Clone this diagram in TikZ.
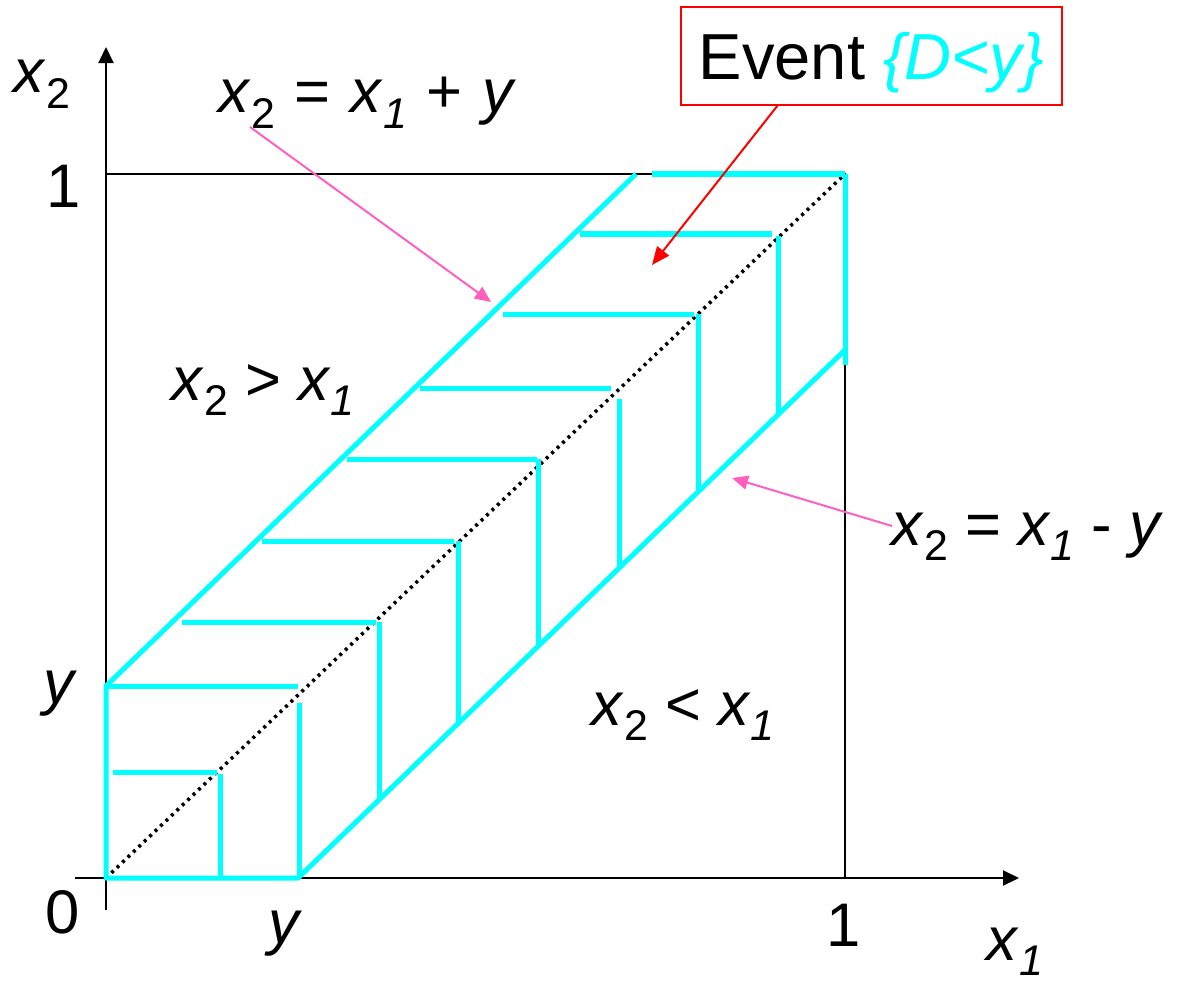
\documentclass[tikz,border=0pt]{standalone}
\usepackage{fontspec}
\setmainfont{Liberation Sans}
\usetikzlibrary{arrows.meta}
\definecolor{cy}{RGB}{0,255,255}
\definecolor{pk}{RGB}{255,95,190}
\definecolor{rd}{RGB}{255,0,0}
\newcommand\mysubsc[1]{\raisebox{-0.25em}{\fontsize{12.2}{13}\selectfont #1}}
\newcommand\myxone{\textit{x}\mysubsc{\textit{1}}}
\newcommand\myxtwo{\textit{x}\mysubsc{2}}
\newcommand\mygap{\hspace{0.32em}}
\begin{document}
\begin{tikzpicture}[x=0.01cm,y=-0.01cm,
  lbl/.style={anchor=base west, inner sep=0pt, font=\fontsize{17.5}{20}\selectfont},
  axisline/.style={line width=0.02cm, black},
  axisarrow/.style={axisline, -{Triangle[length=0.16cm,width=0.15cm]}},
  band/.style={line width=0.05cm, cy, line join=round},
  dotline/.style={line width=0.035cm, black, dash pattern=on 0.03cm off 0.045cm},
  ptr/.style={line width=0.02cm, pk, -{Triangle[length=0.16cm,width=0.14cm]}},
  redptr/.style={line width=0.02cm, rd, -{Triangle[length=0.18cm,width=0.15cm]}},
  eventbox/.style={draw=rd, line width=0.025cm, fill=white, minimum width=3.81cm, minimum height=0.98cm,
    inner sep=0pt, text height=13.2pt, text depth=0pt, font=\fontsize{18.5}{22}\selectfont}
]
\useasboundingbox (0,0) rectangle (1179,982);

% axes and unit square
\draw[axisarrow] (75,878) -- (1019,878);
\draw[axisarrow] (106,910) -- (106,47);
\draw[axisline] (106,174) -- (845,174) -- (845,878);

% diagonal x2 = x1
\draw[dotline] (106,878) -- (845,174);

% band outline
\draw[band] (636,174) -- (106,686) -- (106,878) -- (298,878) -- (845,350);

% horizontal hatches
\foreach \yy/\aa/\bb in {772/113/217, 686/106/298, 622/182/376, 541/262/454,
    459/347/537, 388/420/611, 314/503/694, 234/580/772, 174/652/845}
  \draw[band] (\aa,\yy) -- (\bb,\yy);

% vertical hatches
\foreach \xx/\aa/\bb in {220/774/878, 299/703/878, 379/622/800, 458/541/724,
    538/459/646, 619/399/568, 698/314/492, 778/236/415, 845/174/365}
  \draw[band] (\xx,\aa) -- (\xx,\bb);

% labels
\node[lbl] (lx2) at (13,93) {\myxtwo};
\node[lbl] (one) at (46,207) {1};
\node[lbl] (ylab) at (43,703) {\textit{y}};
\node[lbl] (zero) at (45,933) {0};
\node[lbl] (ybot) at (268,943) {\textit{y}};
\node[lbl] (onebot) at (826,946) {1};
\node[lbl] (lx1) at (986,960) {\myxone};

\node[lbl] (eqplus) at (218,113) {\myxtwo\mygap=\mygap\myxone\mygap+\mygap\textit{y}};
\node[lbl] (gt) at (171,400) {\myxtwo{} > \myxone};
\node[lbl] (lt) at (591,725) {\myxtwo{} < \myxone};
\node[lbl] (eqminus) at (891,545) {\myxtwo{} = \myxone{} - \textit{y}};

\node[eventbox] (event) at (871.5,56) {Event {\color{cy}\textit{\{D<y\}}}};

% pointers
\coordinate (p1s) at (250,127);
\coordinate (p1e) at (491,302);
\coordinate (p2s) at (892,526);
\coordinate (p2e) at (732,478);
\coordinate (r1s) at (778,105);
\coordinate (r1e) at (652,265);
\draw[ptr] (p1s) -- (p1e);
\draw[ptr] (p2s) -- (p2e);
\draw[redptr] (r1s) -- (r1e);
\end{tikzpicture}
\end{document}
